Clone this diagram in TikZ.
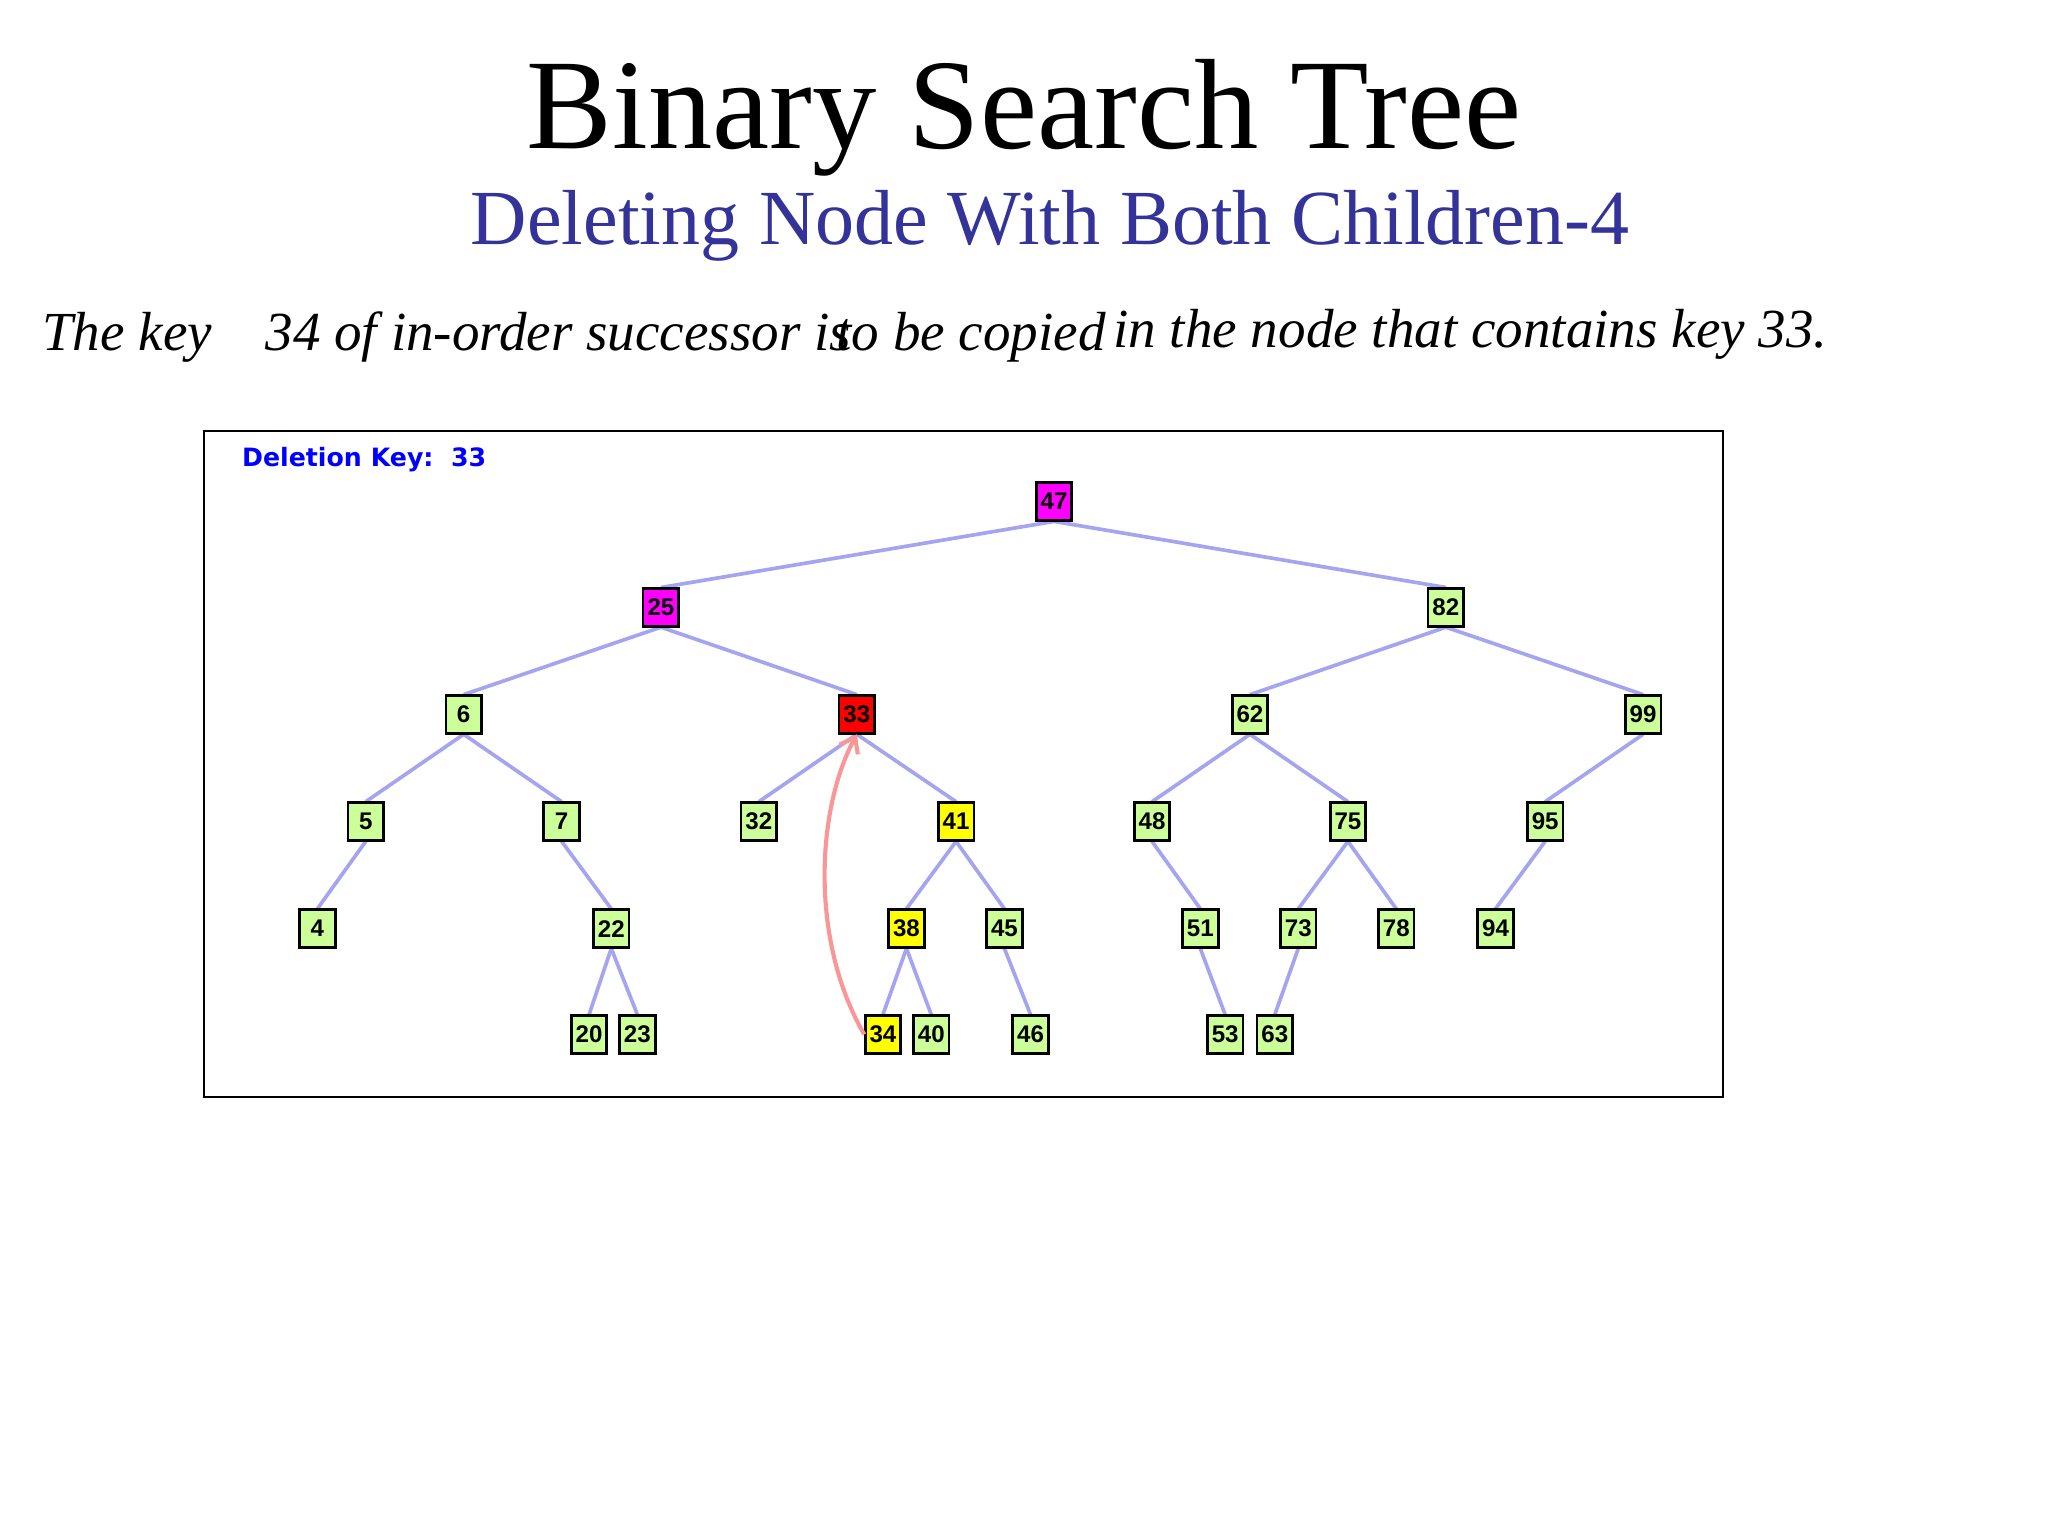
\documentclass[tikz,border=0pt]{standalone}
\usepackage{fontspec}
\setmainfont{Liberation Serif}
\newfontfamily\nodefont{Liberation Sans}
\newfontfamily\keyfont{DejaVu Sans}
\usetikzlibrary{arrows.meta}
\definecolor{gr}{HTML}{CCFF99}
\definecolor{mg}{HTML}{FF00FF}
\definecolor{rd}{HTML}{FF0000}
\definecolor{yl}{HTML}{FFFF00}
\definecolor{edge}{HTML}{A4A4F0}
\definecolor{ttl}{HTML}{333399}
\tikzset{
  bn/.style={draw=black, line width=0.8pt, minimum width=15.5pt, minimum height=16.5pt, inner sep=0pt,
     font=\nodefont\bfseries\fontsize{10.5}{12}\selectfont, fill=gr,
     postaction={draw=black,line width=1.2pt,shorten <=0pt}},
  e/.style={draw=edge, line width=1.6pt},
  it/.style={anchor=base west, font=\itshape\fontsize{24}{28}\selectfont, inner sep=0pt}
}
\begin{document}
\begin{tikzpicture}[x=0.02cm,y=-0.02cm]
\useasboundingbox (0,0) rectangle (1568,1176);
\node[font=\fontsize{56}{60}\selectfont] (title) at (784,90) {Binary Search Tree};
\node[font=\fontsize{34}{38}\selectfont, text=ttl] (sub) at (804,173) {Deleting Node With Both Children-4};
\node[it] (t1) at (32,268) {The key};
\node[it] (t2) at (203,268) {34 of in-order successor is};
\node[it] (t3) at (640,268) {to be copied};
\node[it] (t4) at (852,266) {in the node that contains key 33.};
\draw[line width=0.9pt] (156,330) rectangle (1319,840);
\node[anchor=west, text=blue, font=\keyfont\bfseries\fontsize{11}{13}\selectfont, inner sep=0pt] (dk) at (185,352) {Deletion Key:\ \ 33};
% nodes
\foreach \n/\x/\y/\c in {47/807/384/mg, 25/506/465/mg, 82/1107/465/gr,
  6/355/547/gr, 33/656/547/rd, 62/957/547/gr, 99/1258/547/gr,
  5/280/629/gr, 7/430/629/gr, 32/581/629/gr, 41/732/629/yl, 48/882/629/gr, 75/1032/629/gr, 95/1183/629/gr,
  4/243/711/gr, 22/468/711/gr, 38/694/711/yl, 45/769/711/gr, 51/919/711/gr, 73/994/711/gr, 78/1069/711/gr, 94/1145/711/gr,
  20/451/792/gr, 23/488/792/gr, 34/676/792/yl, 40/713/792/gr, 46/789/792/gr, 53/938/792/gr, 63/976/792/gr}
  \node[bn, fill=\c] (n\n) at (\x,\y) {\n};
% edges
\begin{scope}[on background layer/.try]
\end{scope}
\foreach \p/\c in {47/25,47/82,25/6,25/33,82/62,82/99,6/5,6/7,33/32,33/41,62/48,62/75,99/95,
  5/4,7/22,41/38,41/45,48/51,75/73,75/78,95/94,22/20,22/23,38/34,38/40,45/46,51/53,73/63}
  \draw[e] (n\p.south) -- (n\c.north);
\foreach \n/\x/\y/\c in {47/807/384/mg, 25/506/465/mg, 82/1107/465/gr,
  6/355/547/gr, 33/656/547/rd, 62/957/547/gr, 99/1258/547/gr,
  5/280/629/gr, 7/430/629/gr, 32/581/629/gr, 41/732/629/yl, 48/882/629/gr, 75/1032/629/gr, 95/1183/629/gr,
  4/243/711/gr, 22/468/711/gr, 38/694/711/yl, 45/769/711/gr, 51/919/711/gr, 73/994/711/gr, 78/1069/711/gr, 94/1145/711/gr,
  20/451/792/gr, 23/488/792/gr, 34/676/792/yl, 40/713/792/gr, 46/789/792/gr, 53/938/792/gr, 63/976/792/gr}
  \node[bn, fill=\c] at (\x,\y) {\n};
\draw[draw={rgb,255:red,250;green,150;blue,150}, line width=1.8pt, -{Straight Barb[length=6pt,width=9pt]}]
  (n34.west) .. controls (620,720) and (625,620) .. (n33.south);
\end{tikzpicture}
\end{document}
